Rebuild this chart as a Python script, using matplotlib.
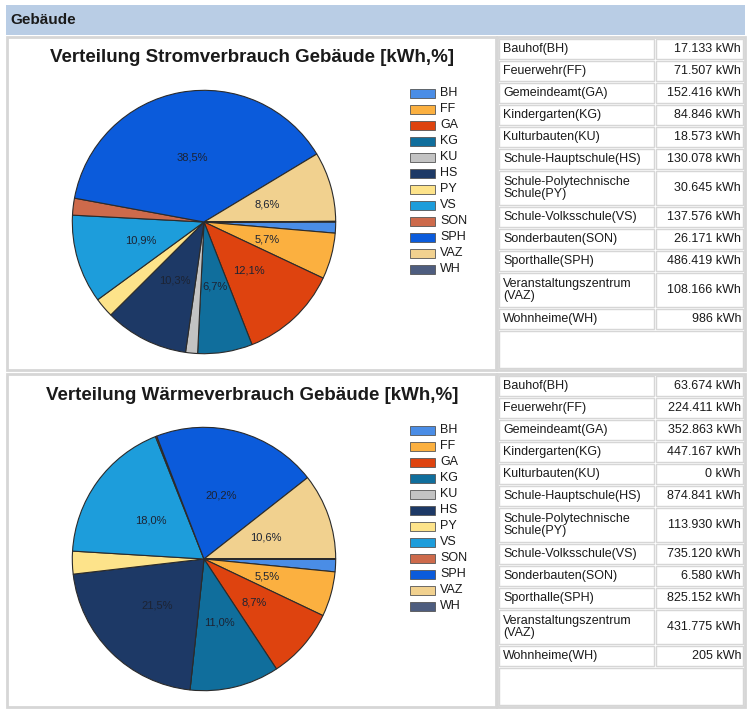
import matplotlib
matplotlib.use('Agg')
import matplotlib.pyplot as plt
from matplotlib.patches import Rectangle

plt.rcParams['font.family'] = ['Liberation Sans', 'DejaVu Sans']

# Daten
KUERZEL = ["BH", "FF", "GA", "KG", "KU", "HS", "PY", "VS", "SON", "SPH", "VAZ", "WH"]
NAMEN = ["Bauhof(BH)", "Feuerwehr(FF)", "Gemeindeamt(GA)", "Kindergarten(KG)",
         "Kulturbauten(KU)", "Schule-Hauptschule(HS)",
         "Schule-Polytechnische\nSchule(PY)", "Schule-Volksschule(VS)",
         "Sonderbauten(SON)", "Sporthalle(SPH)", "Veranstaltungszentrum\n(VAZ)",
         "Wohnheime(WH)"]
STROM = [17133, 71507, 152416, 84846, 18573, 130078, 30645, 137576, 26171, 486419, 108166, 986]
WAERME = [63674, 224411, 352863, 447167, 0, 874841, 113930, 735120, 6580, 825152, 431775, 205]
FARBEN = ["#4a8de6", "#fbb040", "#de430f", "#106e9c", "#c3c3c3", "#1d3966",
          "#fde38a", "#1d9ddb", "#cd6a4b", "#0b5bdb", "#f1d18f", "#4e5d7f"]

W, H = 752, 710
fig = plt.figure(figsize=(W / 100, H / 100), dpi=100)
bg = fig.add_axes([0, 0, 1, 1])
bg.set_xlim(0, W)
bg.set_ylim(H, 0)
bg.axis('off')

RAHMEN = "#d6d6d6"
TEXT = "#1a1a1a"

# Kopfzeile
bg.add_patch(Rectangle((6, 5), 739, 30, facecolor="#b9cde5", edgecolor="none"))
bg.text(10, 20, "Gebäude", fontsize=11, fontweight='bold', va='center', ha='left', color=TEXT)


def format_kwh(v):
    return f"{v:,}".replace(",", ".") + " kWh"


def format_pct(p):
    return (f"{p:.1f}".replace(".", ",") + "%") if p >= 5 else ""


def panel(y0, titel, werte):
    y1 = y0 + 333
    # Rahmen
    bg.add_patch(Rectangle((7, y0), 489, y1 - y0, facecolor="white", edgecolor=RAHMEN, lw=2))
    bg.add_patch(Rectangle((497, y0), 248, y1 - y0, facecolor="white", edgecolor=RAHMEN, lw=2))

    bg.text(252, y0 + 21, titel, fontsize=13.5, fontweight='bold', ha='center', va='center', color=TEXT)

    # Kreisdiagramm
    cx, cy, r = 204, y0 + 185, 133
    ax = fig.add_axes([(cx - r) / W, 1 - (cy + r) / H, 2 * r / W, 2 * r / H])
    ax.pie(werte, colors=FARBEN, startangle=0, counterclock=False,
           autopct=format_pct, pctdistance=0.5,
           wedgeprops=dict(edgecolor="#2b2b2b", linewidth=0.8),
           textprops=dict(fontsize=8, color="#1c2333"))
    ax.set_xlim(-1.01, 1.01)
    ax.set_ylim(-1.01, 1.01)
    ax.set_aspect('equal')

    # Legende
    for i, (k, f) in enumerate(zip(KUERZEL, FARBEN)):
        ly = y0 + 56 + i * 16
        bg.add_patch(Rectangle((410, ly - 4.5), 25, 9, facecolor=f, edgecolor="#555555", lw=0.6))
        bg.text(440, ly, k, fontsize=9, va='center', ha='left', color=TEXT)

    # Tabelle
    y = y0 + 1
    for name, v in zip(NAMEN, werte):
        h = 36 if "\n" in name else 22
        bg.add_patch(Rectangle((499, y + 1), 155, h - 2, facecolor="white", edgecolor=RAHMEN, lw=1))
        bg.add_patch(Rectangle((656, y + 1), 87, h - 2, facecolor="white", edgecolor=RAHMEN, lw=1))
        bg.text(503, y + h / 2, name, fontsize=9, va='center', ha='left', color=TEXT, linespacing=0.95)
        bg.text(741, y + h / 2, format_kwh(v), fontsize=9, va='center', ha='right', color=TEXT)
        y += h
    bg.add_patch(Rectangle((499, y + 1), 244, y1 - y - 3, facecolor="white", edgecolor=RAHMEN, lw=1))


panel(37, "Verteilung Stromverbrauch Gebäude [kWh,%]", STROM)
panel(374, "Verteilung Wärmeverbrauch Gebäude [kWh,%]", WAERME)

fig.savefig("out.png", dpi=100)
